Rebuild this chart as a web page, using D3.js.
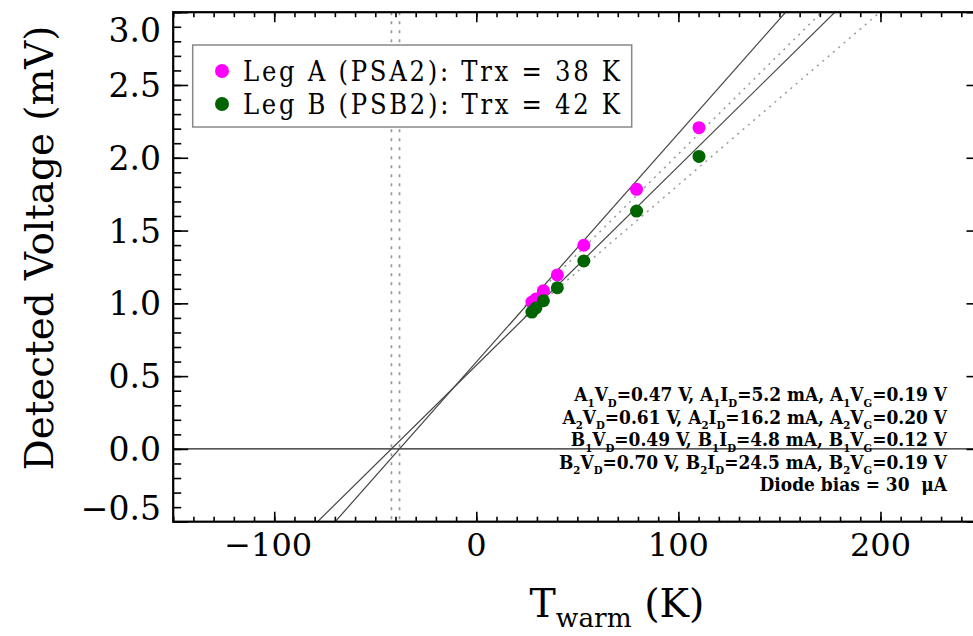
<!DOCTYPE html>
<html>
<head>
<meta charset="utf-8">
<script src="https://cdn.jsdelivr.net/npm/d3@7"></script>
<style>
  body { margin: 0; background: #fff; }
  svg { display: block; background: #fff; }
</style>
</head>
<body>
<svg id="chart" width="973" height="636"></svg>
<script>
// Hot-load temperatures (K) and detected voltages (mV) for the two legs
const tWarm = [27.5, 29.5, 33.2, 40.1, 53.2, 79.3, 110.2];
const legA = [1.009, 1.030, 1.087, 1.195, 1.399, 1.783, 2.207];
const legB = [0.940, 0.968, 1.018, 1.107, 1.291, 1.634, 2.009];

// Receiver temperatures (K) and slopes (mV/K) of the Y-factor fits
const legNames = ["Leg A (PSA2)", "Leg B (PSB2)"];
const trx = [38, 42];
const fitSlope = [0.0157, 0.01367];

// Trend lines over the measured range (mV = intercept + slope*T)
const trendSlope = [0.01374, 0.0119];
const trendIntercept = [0.652, 0.623];
const trendStart = 24;

// Bias settings per amplifier stage
const stageNames = [["A", "1"], ["A", "2"], ["B", "1"], ["B", "2"]];
const drainV = ["0.47", "0.61", "0.49", "0.70"];
const drainI = ["5.2", "16.2", "4.8", "24.5"];
const gateV = ["0.19", "0.20", "0.12", "0.19"];
const diodeBias = 30;

// Axis ticks
const xMajor = [-100, 0, 100, 200];
const yMajor = [-0.5, 0.0, 0.5, 1.0, 1.5, 2.0, 2.5, 3.0];
const xMinorStep = 10;
const yMinorStep = 0.1;

const colors = ["#ff00ff", "#006400"];
const serif = "'DejaVu Serif', serif";

const svg = d3.select("#chart");
const W = 973, H = 636;
const plot = { left: 173.2, right: 981.5, top: 12.2, bottom: 521.7 };

const x = d3.scaleLinear().domain([-150, 250]).range([plot.left, plot.right]);
const y = d3.scaleLinear().domain([-0.5, 3.0]).range([plot.bottom, plot.top]);

// Scale a text's font size so that it spans a given length
function fitLength(sel, target) {
  const len = sel.node().getComputedTextLength();
  const k = target / len;
  sel.attr("font-size", +sel.attr("font-size") * k);
  sel.selectAll("tspan").each(function () {
    const s = d3.select(this);
    if (s.attr("font-size")) s.attr("font-size", +s.attr("font-size") * k);
    if (s.attr("dy")) s.attr("dy", +s.attr("dy") * k);
  });
  return k;
}

svg.append("rect").attr("width", W).attr("height", H).attr("fill", "#fff");

svg.append("clipPath").attr("id", "plotClip")
  .append("rect")
  .attr("x", plot.left).attr("y", plot.top)
  .attr("width", plot.right - plot.left).attr("height", plot.bottom - plot.top);

const inner = svg.append("g").attr("clip-path", "url(#plotClip)");

// Zero-voltage reference
inner.append("line")
  .attr("x1", plot.left).attr("x2", plot.right)
  .attr("y1", y(0)).attr("y2", y(0))
  .attr("stroke", "#222").attr("stroke-width", 1.2);

// Vertical markers at -Trx
trx.forEach(t => {
  inner.append("line")
    .attr("x1", x(-t)).attr("x2", x(-t))
    .attr("y1", plot.top).attr("y2", plot.bottom)
    .attr("stroke", "#999").attr("stroke-width", 1.7)
    .attr("stroke-dasharray", "3,6");
});

// Trend lines (dotted)
trendSlope.forEach((s, i) => {
  const b = trendIntercept[i];
  const tEnd = (3.2 - b) / s;
  inner.append("line")
    .attr("x1", x(trendStart)).attr("y1", y(b + s * trendStart))
    .attr("x2", x(tEnd)).attr("y2", y(b + s * tEnd))
    .attr("stroke", "#999").attr("stroke-width", 1.5)
    .attr("stroke-dasharray", "2,5");
});

// Y-factor fits (solid), crossing zero at -Trx
fitSlope.forEach((s, i) => {
  const f = t => s * (t + trx[i]);
  inner.append("line")
    .attr("x1", x(-150)).attr("y1", y(f(-150)))
    .attr("x2", x(250)).attr("y2", y(f(250)))
    .attr("stroke", "#444").attr("stroke-width", 1.2);
});

// Measured points
[legA, legB].forEach((vals, i) => {
  inner.append("g").selectAll("circle")
    .data(vals.map((v, k) => [tWarm[k], v]))
    .join("circle")
    .attr("cx", d => x(d[0])).attr("cy", d => y(d[1]))
    .attr("r", 6.5)
    .attr("fill", colors[i]);
});

// Axes: majors and minors on all four sides, ticks pointing inward
const xMinor = d3.range(-150, 250 + 1e-9, xMinorStep);
const yMinor = d3.range(-0.5, 3.0 + 1e-9, yMinorStep).map(v => +v.toFixed(2));
const axisStyle = g => {
  g.select(".domain").remove();
  g.selectAll("line").attr("stroke", "#000").attr("stroke-width", 1.6);
  g.selectAll("text").remove();
};
function addAxis(axisFn, scale, transform, values, len) {
  svg.append("g").attr("transform", transform)
    .call(axisFn(scale).tickValues(values).tickSize(-len).tickSizeOuter(0))
    .call(axisStyle);
}
addAxis(d3.axisBottom, x, `translate(0,${plot.bottom})`, xMinor, 5);
addAxis(d3.axisBottom, x, `translate(0,${plot.bottom})`, xMajor, 10);
addAxis(d3.axisTop, x, `translate(0,${plot.top})`, xMinor, 5);
addAxis(d3.axisTop, x, `translate(0,${plot.top})`, xMajor, 10);
addAxis(d3.axisLeft, y, `translate(${plot.left},0)`, yMinor, 8);
addAxis(d3.axisLeft, y, `translate(${plot.left},0)`, yMajor, 15);
addAxis(d3.axisRight, y, `translate(${plot.right},0)`, yMinor, 8);
addAxis(d3.axisRight, y, `translate(${plot.right},0)`, yMajor, 15);

svg.append("rect")
  .attr("x", plot.left).attr("y", plot.top)
  .attr("width", plot.right - plot.left).attr("height", plot.bottom - plot.top)
  .attr("fill", "none").attr("stroke", "#000").attr("stroke-width", 2.2);

// Tick labels
const fmtX = d3.format("d");
svg.append("g").selectAll("text")
  .data(xMajor).join("text")
  .attr("x", d => x(d) - (d < 0 ? 6 : 0)).attr("y", 556)
  .attr("text-anchor", "middle")
  .attr("font-family", serif).attr("font-size", 32)
  .text(d => fmtX(d));

const fmtY = d3.format(".1f");
svg.append("g").selectAll("text")
  .data(yMajor).join("text")
  .attr("x", 161)
  .attr("y", d => Math.min(Math.max(y(d), 30), 508) + 12)
  .attr("text-anchor", "end")
  .attr("font-family", serif).attr("font-size", 33)
  .text(d => fmtY(d));

// Axis titles
const xt = svg.append("text")
  .attr("x", 617).attr("y", 617)
  .attr("text-anchor", "middle")
  .attr("font-family", serif).attr("font-size", 36);
xt.append("tspan").text("T");
xt.append("tspan").attr("font-size", 24).attr("dy", 9).text("warm");
xt.append("tspan").attr("dy", -9).text(" (K)");
fitLength(xt, 175);

const yt = svg.append("text")
  .attr("transform", "translate(53,248) rotate(-90)")
  .attr("text-anchor", "middle")
  .attr("font-family", serif).attr("font-size", 34)
  .text("Detected Voltage (mV)");
fitLength(yt, 445);

// Legend
const legend = svg.append("g");
legend.append("rect")
  .attr("x", 192.7).attr("y", 45)
  .attr("width", 439).attr("height", 82)
  .attr("fill", "#fff").attr("stroke", "#888").attr("stroke-width", 1.5);
legNames.forEach((name, i) => {
  const cy = 71 + i * 33;
  legend.append("circle").attr("cx", 222).attr("cy", cy).attr("r", 7).attr("fill", colors[i]);
  legend.append("text")
    .attr("x", 243).attr("y", cy + 10)
    .attr("font-family", serif)
    .attr("font-stretch", "condensed")
    .attr("font-size", 27)
    .attr("textLength", 377)
    .attr("lengthAdjust", "spacing")
    .text(`${name}: Trx = ${trx[i]} K`);
});

// Bias annotations, right aligned; [text, subscript] segments
const note = svg.append("g")
  .attr("font-family", serif)
  .attr("font-stretch", "condensed")
  .attr("font-weight", "bold");
function writeSegments(t, segs, size) {
  let lowered = false;
  segs.forEach(([txt, isSub]) => {
    const ts = t.append("tspan").text(txt);
    if (isSub && !lowered) { ts.attr("dy", size * 0.3); lowered = true; }
    else if (!isSub && lowered) { ts.attr("dy", -size * 0.3); lowered = false; }
    if (isSub) ts.attr("font-size", size * 0.6);
  });
}
const noteSize = 16;
const noteLines = stageNames.map((st, i) => [
  [st[0], false], [st[1], true], ["V", false], ["D", true],
  [`=${drainV[i]} V, `, false],
  [st[0], false], [st[1], true], ["I", false], ["D", true],
  [`=${drainI[i]} mA, `, false],
  [st[0], false], [st[1], true], ["V", false], ["G", true],
  [`=${gateV[i]} V`, false]
]);
noteLines.push([[`Diode bias = ${diodeBias}\u00a0\u00a0\u03bcA`, false]]);
const noteTexts = noteLines.map((segs, i) => {
  const t = note.append("text")
    .attr("x", 947).attr("y", 401 + i * 22.5)
    .attr("text-anchor", "end")
    .attr("font-size", noteSize);
  writeSegments(t, segs, noteSize);
  return t;
});
// size the block so the first line spans its measured width
const k = 373 / noteTexts[0].node().getComputedTextLength();
noteTexts.forEach(t => {
  t.attr("font-size", noteSize * k);
  t.selectAll("tspan").each(function () {
    const s = d3.select(this);
    if (s.attr("font-size")) s.attr("font-size", +s.attr("font-size") * k);
    if (s.attr("dy")) s.attr("dy", +s.attr("dy") * k);
  });
});
</script>
</body>
</html>
